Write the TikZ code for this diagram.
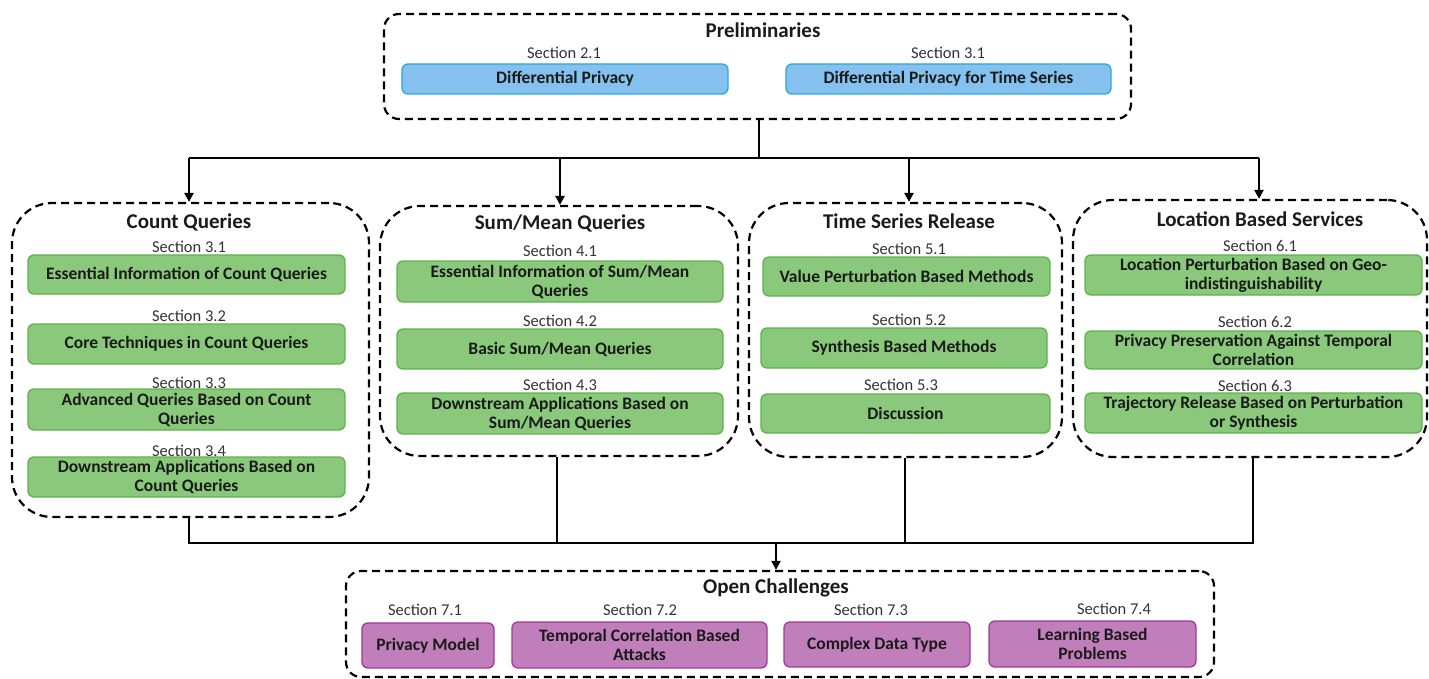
\documentclass[tikz,border=0pt]{standalone}
\usepackage{fontspec}
\setmainfont{Carlito}
\usetikzlibrary{arrows.meta}
\definecolor{bfill}{HTML}{85C1EE}
\definecolor{bline}{HTML}{2AA7DC}
\definecolor{gfill}{HTML}{8AC97B}
\definecolor{gline}{HTML}{5FB24A}
\definecolor{pfill}{HTML}{C07FBB}
\definecolor{pline}{HTML}{A0379B}
\definecolor{txt}{HTML}{1A1A1A}
\definecolor{sec}{HTML}{333333}
\begin{document}
\begin{tikzpicture}[x=1pt,y=-1pt,
  grp/.style={draw=black,line width=2.2pt,dash pattern=on 8pt off 5pt,rectangle,inner sep=0pt},
  item/.style={rectangle,rounded corners=6pt,line width=1.3pt,inner sep=1pt,align=center,
    font=\fontsize{17.5}{19}\selectfont\bfseries,text=txt},
  gbox/.style={item,fill=gfill,draw=gline},
  bbox/.style={item,fill=bfill,draw=bline},
  pbox/.style={item,fill=pfill,draw=pline},
  ttl/.style={font=\fontsize{21}{23}\selectfont\bfseries,text=txt,inner sep=0pt},
  sect/.style={font=\fontsize{16.5}{18}\selectfont,text=sec,inner sep=0pt},
  conn/.style={line width=2.2pt,draw=black},
  arr/.style={conn,-{Triangle[length=9pt,width=9pt]}}]
\useasboundingbox (0,0) rectangle (1429,679);

% Preliminaries
\node[grp,rounded corners=15pt,minimum width=747pt,minimum height=105pt] (preg) at (757.5,66.5) {};
\node[ttl] (pret) at (763,30) {Preliminaries};
\node[sect] (s21) at (564,53) {Section 2.1};
\node[bbox,minimum width=326pt,minimum height=30pt] (dp) at (565,79) {Differential Privacy};
\node[sect] (s31a) at (948,53) {Section 3.1};
\node[bbox,minimum width=325pt,minimum height=30pt] (dpts) at (948.5,79) {Differential Privacy for Time Series};

% Count Queries
\node[grp,rounded corners=40pt,minimum width=357pt,minimum height=314pt] (cqg) at (190.5,360) {};
\node[ttl] (cqt) at (189,222) {Count Queries};
\node[sect] (s31) at (189,247) {Section 3.1};
\node[gbox,minimum width=317pt,minimum height=39pt] (c1) at (186.5,274.5) {Essential Information of Count Queries};
\node[sect] (s32) at (189,316) {Section 3.2};
\node[gbox,minimum width=317pt,minimum height=40pt] (c2) at (186.5,344) {Core Techniques in Count Queries};
\node[sect] (s33) at (189,383) {Section 3.3};
\node[gbox,minimum width=317pt,minimum height=41pt] (c3) at (186.5,409.5) {Advanced Queries Based on Count\\Queries};
\node[sect] (s34) at (189,451) {Section 3.4};
\node[gbox,minimum width=317pt,minimum height=40pt] (c4) at (186.5,477) {Downstream Applications Based on\\Count Queries};

% Sum/Mean Queries
\node[grp,rounded corners=40pt,minimum width=358pt,minimum height=250pt] (smg) at (559,331) {};
\node[ttl] (smt) at (560,223) {Sum/Mean Queries};
\node[sect] (s41) at (560,251) {Section 4.1};
\node[gbox,minimum width=326pt,minimum height=41pt] (m1) at (560,281.5) {Essential Information of Sum/Mean\\Queries};
\node[sect] (s42) at (560,321) {Section 4.2};
\node[gbox,minimum width=326pt,minimum height=40pt] (m2) at (560,349) {Basic Sum/Mean Queries};
\node[sect] (s43) at (560,385) {Section 4.3};
\node[gbox,minimum width=326pt,minimum height=41pt] (m3) at (560,413.5) {Downstream Applications Based on\\Sum/Mean Queries};

% Time Series Release
\node[grp,rounded corners=40pt,minimum width=313pt,minimum height=254pt] (tsg) at (905.5,330) {};
\node[ttl] (tst) at (909,221) {Time Series Release};
\node[sect] (s51) at (909,249) {Section 5.1};
\node[gbox,minimum width=287pt,minimum height=39pt] (t1) at (906.5,276.5) {Value Perturbation Based Methods};
\node[sect] (s52) at (909,320) {Section 5.2};
\node[gbox,minimum width=286pt,minimum height=40pt] (t2) at (904,348) {Synthesis Based Methods};
\node[sect] (s53) at (901,385) {Section 5.3};
\node[gbox,minimum width=289pt,minimum height=39pt] (t3) at (905.5,413.5) {Discussion};

% Location Based Services
\node[grp,rounded corners=40pt,minimum width=354pt,minimum height=257pt] (lsg) at (1250,328.5) {};
\node[ttl] (lst) at (1260,219) {Location Based Services};
\node[sect] (s61) at (1260,246) {Section 6.1};
\node[gbox,minimum width=337pt,minimum height=40pt] (l1) at (1253.5,275) {Location Perturbation Based on Geo-\\indistinguishability};
\node[sect] (s62) at (1255,322) {Section 6.2};
\node[gbox,minimum width=337pt,minimum height=38pt] (l2) at (1253.5,350) {Privacy Preservation Against Temporal\\Correlation};
\node[sect] (s63) at (1255,386) {Section 6.3};
\node[gbox,minimum width=337pt,minimum height=40pt] (l3) at (1253.5,413) {Trajectory Release Based on Perturbation\\or Synthesis};

% Open Challenges
\node[grp,rounded corners=15pt,minimum width=868pt,minimum height=106pt] (ocg) at (780,624) {};
\node[ttl] (oct) at (776,588) {Open Challenges};
\node[sect] (s71) at (425,610) {Section 7.1};
\node[pbox,minimum width=132pt,minimum height=45pt] (o1) at (428,645.5) {Privacy Model};
\node[sect] (s72) at (640,610) {Section 7.2};
\node[pbox,minimum width=255pt,minimum height=46pt] (o2) at (639.5,645) {Temporal Correlation Based\\Attacks};
\node[sect] (s73) at (871,610) {Section 7.3};
\node[pbox,minimum width=186pt,minimum height=45pt] (o3) at (877,644.5) {Complex Data Type};
\node[sect] (s74) at (1114,609) {Section 7.4};
\node[pbox,minimum width=207pt,minimum height=46pt] (o4) at (1092.5,644) {Learning Based\\Problems};

% top connectors
\coordinate (hub) at (759,158);
\coordinate (a1) at (189,158);
\coordinate (a2) at (560,158);
\coordinate (a3) at (909,158);
\coordinate (a4) at (1259,158);
\draw[conn] (preg.south -| hub) -- (hub);
\draw[conn] (a1) -- (a4);
\draw[arr] (a1) -- (a1 |- cqg.north);
\draw[arr] (a2) -- (a2 |- smg.north);
\draw[arr] (a3) -- (a3 |- tsg.north);
\draw[arr] (a4) -- (a4 |- lsg.north);

% bottom connectors
\coordinate (hb) at (776,543);
\coordinate (b1) at (189,543);
\coordinate (b2) at (557,543);
\coordinate (b3) at (905,543);
\coordinate (b4) at (1253,543);
\draw[conn] (b1 |- cqg.south) -- (b1) -- (b4) -- (b4 |- lsg.south);
\draw[conn] (b2 |- smg.south) -- (b2);
\draw[conn] (b3 |- tsg.south) -- (b3);
\draw[arr] (hb) -- (hb |- ocg.north);
\end{tikzpicture}
\end{document}
